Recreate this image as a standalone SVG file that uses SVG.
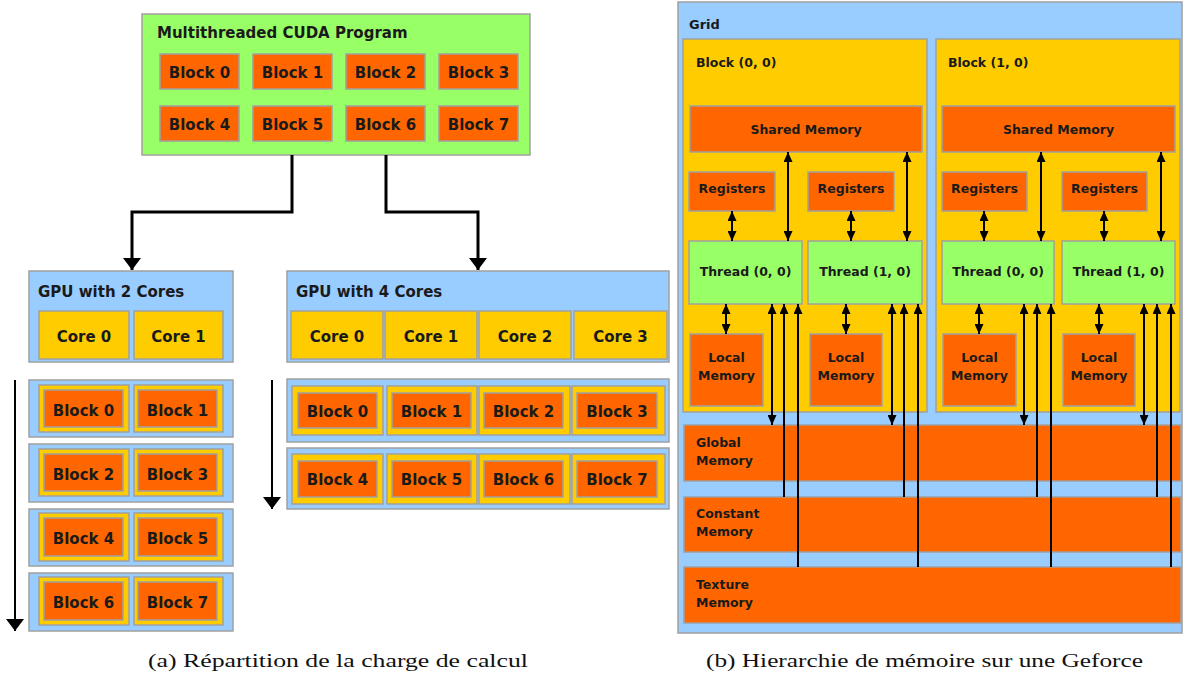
<svg xmlns="http://www.w3.org/2000/svg" width="1183" height="677" viewBox="0 0 1183 677">
<defs>
<style>
.g{fill:#99FF66;stroke:#A0A0A0;stroke-width:1.5}
.o{fill:#FF6600;stroke:#A0A0A0;stroke-width:1.5}
.y{fill:#FFCC00;stroke:#A0A0A0;stroke-width:1.5}
.b{fill:#99CCFF;stroke:#A0A0A0;stroke-width:1.5}
text{font-family:"DejaVu Sans",Verdana,sans-serif;font-weight:bold;fill:#1a1a1a}
.l{font-size:15px}
.c{font-size:15px;text-anchor:middle}
.r{font-size:12.5px}
.rc{font-size:12.5px;text-anchor:middle}
.cap{font-family:"Liberation Serif","Times New Roman",serif;font-weight:normal;font-size:18.5px;fill:#111}
.big{fill:none;stroke:#000;stroke-width:3}
.t{fill:none;stroke:#000;stroke-width:2}
.s{fill:none;stroke:#000;stroke-width:2}
</style>
<marker id="bh" viewBox="0 0 12 18" refX="12" refY="9" markerWidth="12" markerHeight="18" markerUnits="userSpaceOnUse" orient="auto-start-reverse"><path d="M0,0 L12,9 L0,18 z" fill="#000"/></marker>
<marker id="sh" viewBox="0 0 10 9" refX="10" refY="4.5" markerWidth="10" markerHeight="9" markerUnits="userSpaceOnUse" orient="auto-start-reverse"><path d="M0,0 L10,4.5 L0,9 z" fill="#000"/></marker>
</defs>
<rect width="1183" height="677" fill="#fff"/>

<g id="program">
<rect class="g" x="142" y="14" width="388" height="141"/>
<text class="l" x="157" y="38">Multithreaded CUDA Program</text>
<rect class="o" x="160" y="54" width="79" height="35"/><text class="c" x="199.5" y="78">Block 0</text>
<rect class="o" x="253" y="54" width="79" height="35"/><text class="c" x="292.5" y="78">Block 1</text>
<rect class="o" x="346" y="54" width="79" height="35"/><text class="c" x="385.5" y="78">Block 2</text>
<rect class="o" x="439" y="54" width="79" height="35"/><text class="c" x="478.5" y="78">Block 3</text>
<rect class="o" x="160" y="106" width="79" height="35"/><text class="c" x="199.5" y="130">Block 4</text>
<rect class="o" x="253" y="106" width="79" height="35"/><text class="c" x="292.5" y="130">Block 5</text>
<rect class="o" x="346" y="106" width="79" height="35"/><text class="c" x="385.5" y="130">Block 6</text>
<rect class="o" x="439" y="106" width="79" height="35"/><text class="c" x="478.5" y="130">Block 7</text>
</g>

<g id="gpu2">
<rect class="b" x="29" y="271" width="204" height="91"/>
<text class="l" x="38" y="297">GPU with 2 Cores</text>
<rect class="y" x="39" y="311" width="90" height="48"/><text class="c" x="84" y="342">Core 0</text>
<rect class="y" x="134" y="311" width="89" height="48"/><text class="c" x="178.5" y="342">Core 1</text>
</g>

<g id="gpu2-rows">
<rect class="b" x="29" y="380" width="204" height="57"/>
<rect class="y" x="39" y="385" width="90" height="47"/><rect class="o" x="44" y="390" width="79" height="37"/><text class="c" x="83.5" y="416">Block 0</text>
<rect class="y" x="134" y="385" width="89" height="47"/><rect class="o" x="138" y="390" width="79" height="37"/><text class="c" x="177.5" y="416">Block 1</text>
<rect class="b" x="29" y="444" width="204" height="58"/>
<rect class="y" x="39" y="449" width="90" height="47"/><rect class="o" x="44" y="454" width="79" height="37"/><text class="c" x="83.5" y="480">Block 2</text>
<rect class="y" x="134" y="449" width="89" height="47"/><rect class="o" x="138" y="454" width="79" height="37"/><text class="c" x="177.5" y="480">Block 3</text>
<rect class="b" x="29" y="509" width="204" height="57"/>
<rect class="y" x="39" y="513" width="90" height="48"/><rect class="o" x="44" y="518" width="79" height="38"/><text class="c" x="83.5" y="544">Block 4</text>
<rect class="y" x="134" y="513" width="89" height="48"/><rect class="o" x="138" y="518" width="79" height="38"/><text class="c" x="177.5" y="544">Block 5</text>
<rect class="b" x="29" y="573" width="204" height="58"/>
<rect class="y" x="39" y="577" width="90" height="48"/><rect class="o" x="44" y="582" width="79" height="38"/><text class="c" x="83.5" y="608">Block 6</text>
<rect class="y" x="134" y="577" width="89" height="48"/><rect class="o" x="138" y="582" width="79" height="38"/><text class="c" x="177.5" y="608">Block 7</text>
</g>

<g id="gpu4">
<rect class="b" x="287" y="271" width="382" height="91"/>
<text class="l" x="296" y="297">GPU with 4 Cores</text>
<rect class="y" x="291" y="311" width="92" height="48"/><text class="c" x="337" y="342">Core 0</text>
<rect class="y" x="385" y="311" width="92" height="48"/><text class="c" x="431" y="342">Core 1</text>
<rect class="y" x="479" y="311" width="92" height="48"/><text class="c" x="525" y="342">Core 2</text>
<rect class="y" x="574" y="311" width="93" height="48"/><text class="c" x="620.5" y="342">Core 3</text>
</g>

<g id="gpu4-rows">
<rect class="b" x="287" y="379" width="382" height="63"/>
<rect class="y" x="292" y="386" width="91" height="49"/><rect class="o" x="298" y="393" width="79" height="35"/><text class="c" x="337.5" y="417">Block 0</text>
<rect class="y" x="387" y="386" width="90" height="49"/><rect class="o" x="392" y="393" width="79" height="35"/><text class="c" x="431.5" y="417">Block 1</text>
<rect class="y" x="479" y="386" width="91" height="49"/><rect class="o" x="484" y="393" width="79" height="35"/><text class="c" x="523.5" y="417">Block 2</text>
<rect class="y" x="572" y="386" width="93" height="49"/><rect class="o" x="577" y="393" width="80" height="35"/><text class="c" x="617" y="417">Block 3</text>
<rect class="b" x="287" y="448" width="382" height="61"/>
<rect class="y" x="292" y="454" width="91" height="50"/><rect class="o" x="298" y="461" width="79" height="36"/><text class="c" x="337.5" y="485">Block 4</text>
<rect class="y" x="387" y="454" width="90" height="50"/><rect class="o" x="392" y="461" width="79" height="36"/><text class="c" x="431.5" y="485">Block 5</text>
<rect class="y" x="479" y="454" width="91" height="50"/><rect class="o" x="484" y="461" width="79" height="36"/><text class="c" x="523.5" y="485">Block 6</text>
<rect class="y" x="572" y="454" width="93" height="50"/><rect class="o" x="577" y="461" width="80" height="36"/><text class="c" x="617" y="485">Block 7</text>
</g>

<g id="grid">
<rect class="b" x="678" y="2" width="504" height="631"/>
<text class="r" x="689" y="29" style="font-size:13px">Grid</text>
</g>

<g id="block00">
<rect class="y" x="683" y="39" width="244" height="373"/>
<text class="r" x="696" y="67">Block (0, 0)</text>
<rect class="o" x="690" y="106" width="232" height="46"/><text class="rc" x="806" y="134">Shared Memory</text>
<rect class="o" x="689" y="172" width="86" height="39"/><text class="rc" x="732" y="193">Registers</text>
<rect class="o" x="808" y="172" width="86" height="39"/><text class="rc" x="851" y="193">Registers</text>
<rect class="g" x="689" y="241" width="113" height="63"/><text class="rc" x="745.5" y="276">Thread (0, 0)</text>
<rect class="g" x="808" y="241" width="114" height="63"/><text class="rc" x="865" y="276">Thread (1, 0)</text>
<rect class="o" x="690" y="334" width="73" height="72"/><text class="rc" x="726.5" y="362">Local</text><text class="rc" x="726.5" y="380">Memory</text>
<rect class="o" x="810" y="334" width="72" height="72"/><text class="rc" x="846" y="362">Local</text><text class="rc" x="846" y="380">Memory</text>
</g>

<g id="block10">
<rect class="y" x="936" y="39" width="244" height="373"/>
<text class="r" x="948" y="67">Block (1, 0)</text>
<rect class="o" x="942" y="106" width="233" height="46"/><text class="rc" x="1058.5" y="134">Shared Memory</text>
<rect class="o" x="942" y="172" width="85" height="39"/><text class="rc" x="984.5" y="193">Registers</text>
<rect class="o" x="1062" y="172" width="85" height="39"/><text class="rc" x="1104.5" y="193">Registers</text>
<rect class="g" x="942" y="241" width="112" height="63"/><text class="rc" x="998" y="276">Thread (0, 0)</text>
<rect class="g" x="1062" y="241" width="113" height="63"/><text class="rc" x="1118.5" y="276">Thread (1, 0)</text>
<rect class="o" x="943" y="334" width="73" height="72"/><text class="rc" x="979.5" y="362">Local</text><text class="rc" x="979.5" y="380">Memory</text>
<rect class="o" x="1063" y="334" width="72" height="72"/><text class="rc" x="1099" y="362">Local</text><text class="rc" x="1099" y="380">Memory</text>
</g>

<g id="memories">
<rect class="o" x="684" y="425" width="497" height="56"/><text class="r" x="696" y="447">Global</text><text class="r" x="696" y="465">Memory</text>
<rect class="o" x="684" y="497" width="497" height="55"/><text class="r" x="696" y="518">Constant</text><text class="r" x="696" y="536">Memory</text>
<rect class="o" x="684" y="567" width="497" height="56"/><text class="r" x="696" y="589">Texture</text><text class="r" x="696" y="607">Memory</text>
</g>

<g id="connectors">
<path class="big" d="M292,155 V212 H132 V270" marker-end="url(#bh)"/>
<path class="big" d="M386,155 V212 H478 V270" marker-end="url(#bh)"/>
<path class="t" d="M15,380 V631" marker-end="url(#bh)"/>
<path class="t" d="M272,380 V509" marker-end="url(#bh)"/>

<path class="s" d="M732,211 V241" marker-start="url(#sh)" marker-end="url(#sh)"/>
<path class="s" d="M851,211 V241" marker-start="url(#sh)" marker-end="url(#sh)"/>
<path class="s" d="M788,152 V241" marker-start="url(#sh)" marker-end="url(#sh)"/>
<path class="s" d="M907,152 V241" marker-start="url(#sh)" marker-end="url(#sh)"/>
<path class="s" d="M726,304 V334" marker-start="url(#sh)" marker-end="url(#sh)"/>
<path class="s" d="M846,304 V334" marker-start="url(#sh)" marker-end="url(#sh)"/>
<path class="s" d="M772,304 V425" marker-start="url(#sh)" marker-end="url(#sh)"/>
<path class="s" d="M784,304 V497" marker-start="url(#sh)"/>
<path class="s" d="M798,304 V567" marker-start="url(#sh)"/>
<path class="s" d="M892,304 V425" marker-start="url(#sh)" marker-end="url(#sh)"/>
<path class="s" d="M904,304 V497" marker-start="url(#sh)"/>
<path class="s" d="M918,304 V567" marker-start="url(#sh)"/>

<path class="s" d="M984,211 V241" marker-start="url(#sh)" marker-end="url(#sh)"/>
<path class="s" d="M1104,211 V241" marker-start="url(#sh)" marker-end="url(#sh)"/>
<path class="s" d="M1041,152 V241" marker-start="url(#sh)" marker-end="url(#sh)"/>
<path class="s" d="M1161,152 V241" marker-start="url(#sh)" marker-end="url(#sh)"/>
<path class="s" d="M979,304 V334" marker-start="url(#sh)" marker-end="url(#sh)"/>
<path class="s" d="M1099,304 V334" marker-start="url(#sh)" marker-end="url(#sh)"/>
<path class="s" d="M1024,304 V425" marker-start="url(#sh)" marker-end="url(#sh)"/>
<path class="s" d="M1037,304 V497" marker-start="url(#sh)"/>
<path class="s" d="M1051,304 V567" marker-start="url(#sh)"/>
<path class="s" d="M1144,304 V425" marker-start="url(#sh)" marker-end="url(#sh)"/>
<path class="s" d="M1157,304 V497" marker-start="url(#sh)"/>
<path class="s" d="M1171,304 V567" marker-start="url(#sh)"/>
</g>

<g id="captions">
<text class="cap" x="148" y="667" textLength="380" lengthAdjust="spacingAndGlyphs">(a) Répartition de la charge de calcul</text>
<text class="cap" x="706" y="667" textLength="437" lengthAdjust="spacingAndGlyphs">(b) Hierarchie de mémoire sur une Geforce</text>
</g>
</svg>
